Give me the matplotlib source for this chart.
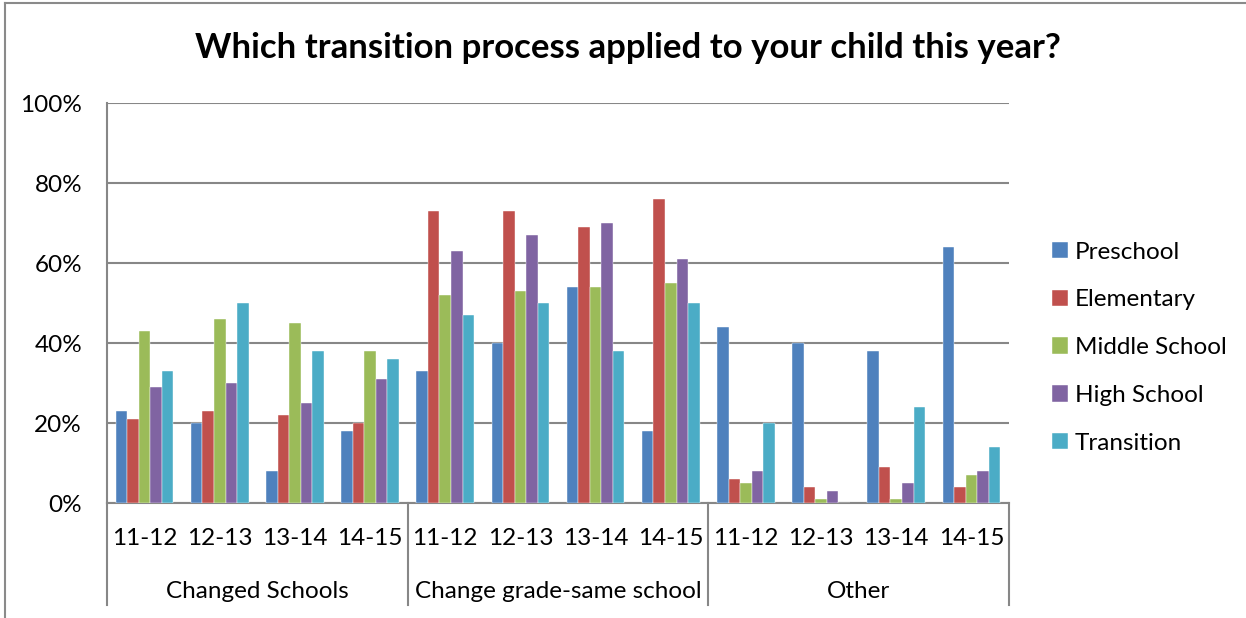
import matplotlib
matplotlib.use("Agg")
import matplotlib.pyplot as plt
from matplotlib.lines import Line2D
from matplotlib.ticker import FuncFormatter
import numpy as np

groups = ["Changed Schools", "Change grade-same school", "Other"]
periods = ["11-12", "12-13", "13-14", "14-15"]
series_names = ["Preschool", "Elementary", "Middle School", "High School", "Transition"]
colors = ["#4F81BD", "#C0504D", "#9BBB59", "#8064A2", "#4BACC6"]

preschool = [23, 20, 8, 18, 33, 40, 54, 18, 44, 40, 38, 64]
elementary = [21, 23, 22, 20, 73, 73, 69, 76, 6, 4, 9, 4]
middle_school = [43, 46, 45, 38, 52, 53, 54, 55, 5, 1, 1, 7]
high_school = [29, 30, 25, 31, 63, 67, 70, 61, 8, 3, 5, 8]
transition = [33, 50, 38, 36, 47, 50, 38, 50, 20, 0, 24, 14]
values = [preschool, elementary, middle_school, high_school, transition]

plt.rcParams['font.family'] = ['Lato', 'DejaVu Sans']
FS = 17.5
W, H = 1246, 618
fig = plt.figure(figsize=(W / 100, H / 100), dpi=100)
ax = fig.add_axes([107 / W, 1 - 503 / H, (1009 - 107) / W, (503 - 103) / H])

n_cat = len(groups) * len(periods)
x = np.arange(n_cat)
bw = 1 / 6.5
for i, (name, vals, c) in enumerate(zip(series_names, values, colors)):
    ax.bar(x + (i - 2) * bw, vals, width=bw, color=c, label=name,
           edgecolor="white", linewidth=0.3, zorder=3)

ax.set_xlim(-0.5, n_cat - 0.5)
ax.set_ylim(0, 100)
ax.set_yticks(range(0, 101, 20))
ax.yaxis.set_major_formatter(FuncFormatter(lambda v, p: f"{int(v)}%"))
ax.grid(axis="y", color="#878787", linewidth=1.5, zorder=0)
ax.tick_params(axis="y", length=0, pad=18, labelsize=FS, labelcolor="black")
ax.set_xticks(x)
ax.set_xticklabels(periods * len(groups))
ax.tick_params(axis="x", length=0, pad=18, labelsize=FS, labelcolor="black")

for s in ["top", "right"]:
    ax.spines[s].set_visible(False)
for s in ["left", "bottom"]:
    ax.spines[s].set_color("#878787")
    ax.spines[s].set_linewidth(1.5)

trans = ax.get_xaxis_transform()
depth = -(605 - 503) / (503 - 103)
for b in range(len(groups) + 1):
    xb = b * len(periods) - 0.5
    ax.plot([xb, xb], [0, depth], transform=trans, color="#878787",
            linewidth=1.5, clip_on=False, zorder=4)
for g, name in enumerate(groups):
    xc = g * len(periods) + (len(periods) - 1) / 2
    ax.text(xc, -(591 - 503) / (503 - 103), name, transform=trans,
            ha="center", va="center", fontsize=FS)

fig.text(628 / W, 1 - 48 / H, "Which transition process applied to your child this year?",
         ha="center", va="center", fontsize=25, fontweight="bold")

leg = ax.legend(loc="upper left", bbox_to_anchor=(1042 / W, 1 - 232 / H),
                bbox_transform=fig.transFigure, frameon=False, fontsize=FS,
                handlelength=0.66, handleheight=0.66, handletextpad=0.3,
                labelspacing=1.1, borderaxespad=0)

fig.add_artist(Line2D([5 / W, 5 / W], [0, 1 - 3 / H], color="#8a8a8a", linewidth=1.5))
fig.add_artist(Line2D([5 / W, 1], [1 - 3 / H, 1 - 3 / H], color="#8a8a8a", linewidth=1.5))

fig.savefig("out.png", dpi=100)
